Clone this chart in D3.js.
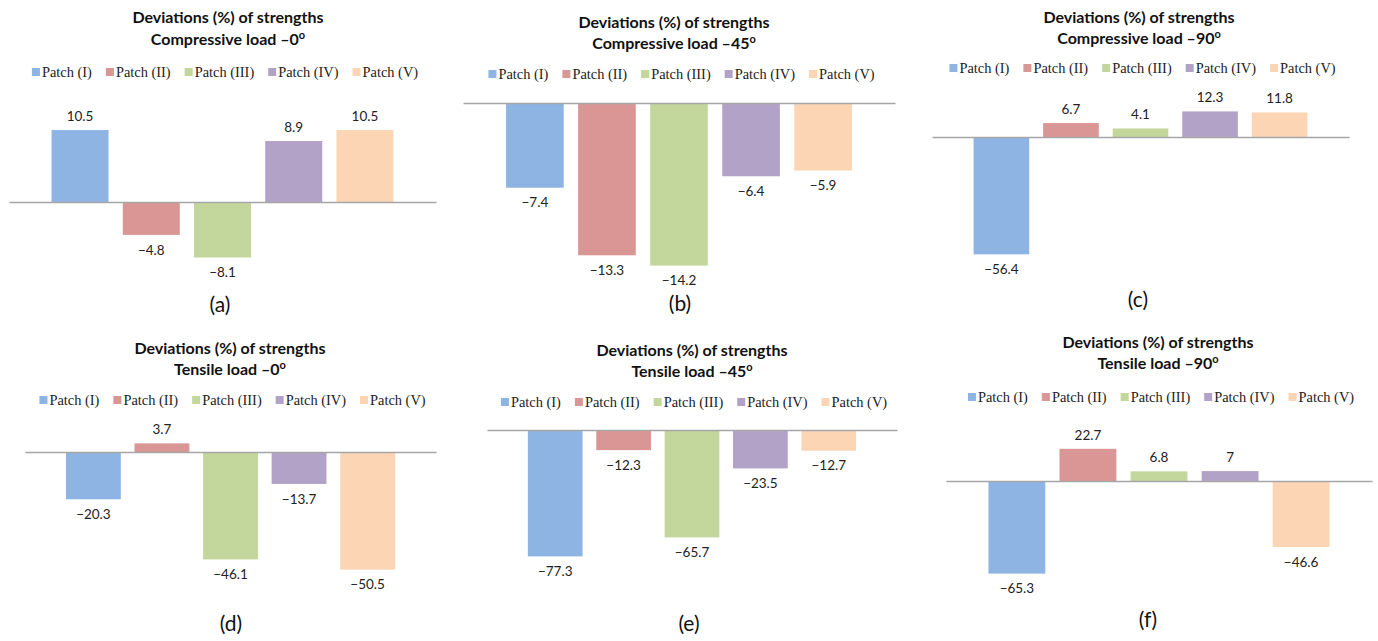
<!DOCTYPE html>
<html>
<head>
<meta charset="utf-8">
<script src="https://cdn.jsdelivr.net/npm/d3@7/dist/d3.min.js"></script>
<style>
  html, body { margin: 0; padding: 0; background: #fff; }
  svg { display: block; }
</style>
</head>
<body>
<svg id="chart" width="1378" height="641"></svg>
<script>
// ---------------- DATA ----------------
const patches = ["Patch (I)", "Patch (II)", "Patch (III)", "Patch (IV)", "Patch (V)"];
const compressive0  = [10.5, -4.8, -8.1, 8.9, 10.5];
const compressive45 = [-7.4, -13.3, -14.2, -6.4, -5.9];
const compressive90 = [-56.4, 6.7, 4.1, 12.3, 11.8];
const tensile0  = [-20.3, 3.7, -46.1, -13.7, -50.5];
const tensile45 = [-77.3, -12.3, -65.7, -23.5, -12.7];
const tensile90 = [-65.3, 22.7, 6.8, 7, -46.6];
const titleLine1 = "Deviations (%) of strengths";
const titleLine2 = ["Compressive load \u20130", "Compressive load \u201345", "Compressive load \u201390",
                    "Tensile load \u20130", "Tensile load \u201345", "Tensile load \u201390"];
const panelLabels = ["(a)", "(b)", "(c)", "(d)", "(e)", "(f)"];
const seriesByPanel = [compressive0, compressive45, compressive90, tensile0, tensile45, tensile90];

// ---------------- STYLE / LAYOUT ----------------
const colors = ["#8EB4E3", "#D99694", "#C3D69B", "#B3A2C7", "#FCD5B5"];
const layout = [
  {ax0: 9,   ax1: 436,  zeroY: 202, unit: 6.85,  tcx: 228,  t1: 17,  t2: 39,  lcx: 225,    ly: 72,  pcx: 220,  py: 305},
  {ax0: 463, ax1: 895,  zeroY: 103, unit: 11.45, tcx: 674,  t1: 22,  t2: 43,  lcx: 681.5,  ly: 74,  pcx: 680,  py: 304},
  {ax0: 932, ax1: 1349, zeroY: 137, unit: 2.08,  tcx: 1139, t1: 17,  t2: 38,  lcx: 1142.5, ly: 68,  pcx: 1138, py: 300},
  {ax0: 25,  ax1: 436,  zeroY: 452, unit: 2.33,  tcx: 230,  t1: 348, t2: 369, lcx: 232.5,  ly: 400, pcx: 231,  py: 624},
  {ax0: 487, ax1: 897,  zeroY: 430, unit: 1.635, tcx: 692,  t1: 350, t2: 371, lcx: 694,    ly: 402, pcx: 689,  py: 624},
  {ax0: 946, ax1: 1372, zeroY: 481, unit: 1.418, tcx: 1158, t1: 342, t2: 363, lcx: 1161,   ly: 397, pcx: 1148, py: 620}
];
const sansFont = "Lato, 'Open Sans', sans-serif";
const serifFont = "'Liberation Serif', 'Times New Roman', serif";

const svg = d3.select("#chart");
const fmt = v => (v < 0 ? "\u2212" : "") + String(Math.abs(v));

seriesByPanel.forEach((values, i) => {
  const L = layout[i];
  const g = svg.append("g");
  const w = L.ax1 - L.ax0;
  const inset = w * 0.083;

  const x = d3.scaleBand().domain(patches).range([L.ax0 + inset, L.ax1 - inset])
    .paddingInner(0.2).paddingOuter(0.1);
  const y = d3.scaleLinear().domain([0, 10]).range([L.zeroY, L.zeroY - 10 * L.unit]);

  // bars
  g.selectAll("rect.bar").data(values).join("rect")
    .attr("class", "bar")
    .attr("x", (d, j) => x(patches[j]))
    .attr("width", x.bandwidth())
    .attr("y", d => Math.min(y(d), y(0)))
    .attr("height", d => Math.abs(y(d) - y(0)))
    .attr("fill", (d, j) => colors[j]);

  // zero axis line
  const axis = d3.axisBottom(d3.scaleLinear().range([L.ax0, L.ax1])).tickValues([]).tickSizeOuter(0);
  const ag = g.append("g").attr("transform", `translate(0,${y(0)})`).call(axis);
  ag.select(".domain").attr("stroke", "#A6A6A6").attr("stroke-width", 1.5);

  // data labels
  g.selectAll("text.val").data(values).join("text")
    .attr("class", "val")
    .attr("x", (d, j) => x(patches[j]) + x.bandwidth() / 2)
    .attr("y", d => d >= 0 ? y(d) - 14 : y(d) + 15)
    .attr("dy", "0.35em")
    .attr("text-anchor", "middle")
    .attr("font-family", sansFont)
    .attr("font-size", 13.5)
    .attr("fill", "#222")
    .text(d => fmt(d));

  // title
  const t = g.append("text").attr("text-anchor", "middle")
    .attr("font-family", sansFont).attr("font-weight", "bold").attr("font-size", 16).attr("fill", "#111");
  t.append("tspan").attr("x", L.tcx).attr("y", L.t1).attr("dy", "0.35em").text(titleLine1);
  t.append("tspan").attr("x", L.tcx).attr("y", L.t2).attr("dy", "0.35em").text(titleLine2[i]);
  t.append("tspan").attr("dy", "-6").attr("font-size", 11).text("o");

  // legend
  const lg = g.append("g");
  let cx = 0;
  patches.forEach((p, j) => {
    const item = lg.append("g").attr("transform", `translate(${cx},0)`);
    item.append("rect").attr("x", 0).attr("y", -4).attr("width", 8).attr("height", 8).attr("fill", colors[j]);
    const tx = item.append("text").attr("x", 10).attr("y", 0).attr("dy", "0.35em")
      .attr("font-family", serifFont).attr("font-size", 14.4).attr("fill", "#222").text(p);
    cx += 10 + tx.node().getComputedTextLength() + 14;
  });
  const totalW = cx - 14;
  lg.attr("transform", `translate(${L.lcx - totalW / 2},${L.ly})`);

  // panel label
  g.append("text").attr("x", L.pcx).attr("y", L.py).attr("dy", "0.35em")
    .attr("text-anchor", "middle").attr("font-family", sansFont).attr("font-size", 21).attr("fill", "#111")
    .text(panelLabels[i]);
});
</script>
</body>
</html>
